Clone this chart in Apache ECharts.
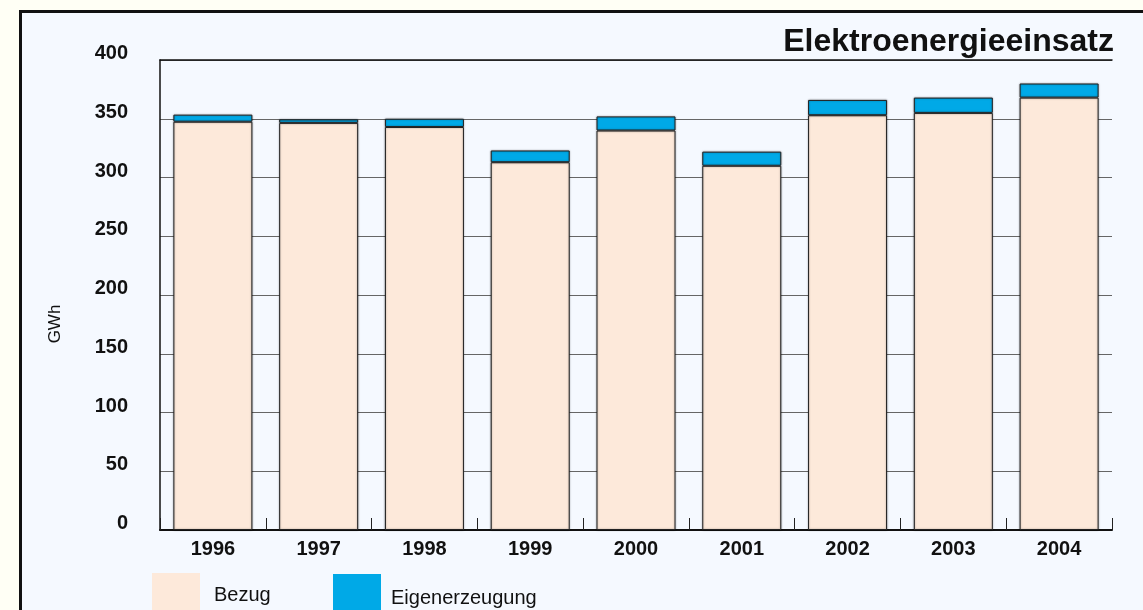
<!DOCTYPE html>
<html>
<head>
<meta charset="utf-8">
<script src="https://cdn.jsdelivr.net/npm/echarts@6/dist/echarts.min.js"></script>
<style>
  html, body { margin: 0; padding: 0; background: #fffff5; }
  #chart { width: 1143px; height: 610px; }
</style>
</head>
<body>
<div id="chart"></div>
<script>
const FONT = '"Liberation Sans", Arial, Helvetica, sans-serif'

const years = ['1996', '1997', '1998', '1999', '2000', '2001', '2002', '2003', '2004']
const bezug = [347.5, 346.5, 343, 313, 340, 310, 353, 355, 368]
const eigenerzeugung = [6, 3, 7, 10, 12, 12, 13, 13, 12]

const chart = echarts.init(document.getElementById('chart'))

const barStyle = (color) => ({
  color: color,
  borderColor: '#222',
  borderWidth: 1,
  shadowColor: 'rgba(0,0,0,0.35)',
  shadowBlur: 2,
})

// legend text sits a little lower than the middle of the swatch
const legendText = (pad) => ({
  fontFamily: FONT,
  rich: { a: { fontSize: 20, color: '#111', fontFamily: FONT, padding: pad } },
})

chart.setOption({
  backgroundColor: '#fffff5',
  animation: false,
  textStyle: { fontFamily: FONT },
  graphic: [
    {
      type: 'rect',
      z: -10,
      shape: { x: 20.5, y: 11.5, width: 1200, height: 700 },
      style: { fill: '#f5f9ff', stroke: '#111', lineWidth: 3 },
      silent: true,
    },
  ],
  title: {
    text: 'Elektroenergieeinsatz',
    right: 24,
    top: 21,
    textStyle: { fontSize: 32, fontWeight: 'bold', color: '#111', fontFamily: FONT },
  },
  grid: { left: 160, right: 31, top: 60, bottom: 80 },
  legend: [
    {
      left: 147,
      top: 568,
      itemWidth: 48,
      itemHeight: 37,
      icon: 'rect',
      data: ['Bezug'],
      formatter: '{a|{name}}',
      itemStyle: { borderWidth: 0, shadowBlur: 0 },
      textStyle: legendText([7, 0, 0, 9]),
    },
    {
      left: 328,
      top: 569,
      itemWidth: 48,
      itemHeight: 37,
      icon: 'rect',
      data: ['Eigenerzeugung'],
      formatter: '{a|{name}}',
      itemStyle: { borderWidth: 0, shadowBlur: 0 },
      textStyle: legendText([12, 0, 0, 5]),
    },
  ],
  xAxis: [
    {
      type: 'category',
      data: years,
      axisLine: { lineStyle: { color: '#111', width: 2 } },
      axisTick: { show: true, inside: true, length: 12, lineStyle: { color: '#222', width: 1 } },
      axisLabel: { fontSize: 20, fontWeight: 'bold', color: '#111', margin: 9, fontFamily: FONT },
    },
    {
      type: 'category',
      position: 'top',
      data: years,
      axisLine: { show: true, lineStyle: { color: '#111', width: 1.5 } },
      axisTick: { show: false },
      axisLabel: { show: false },
    },
  ],
  yAxis: {
    type: 'value',
    min: 0,
    max: 400,
    interval: 50,
    name: 'GWh',
    nameLocation: 'middle',
    nameRotate: 90,
    nameGap: 96,
    nameTextStyle: { fontSize: 17, color: '#111', fontFamily: FONT, padding: [0, 58, 0, 0] },
    axisLine: { show: true, lineStyle: { color: '#111', width: 1.5 } },
    axisTick: { show: false },
    axisLabel: {
      fontSize: 20, fontWeight: 'bold', color: '#111', margin: 32,
      verticalAlign: 'bottom', lineHeight: 13, fontFamily: FONT,
    },
    splitLine: { lineStyle: { color: '#666', width: 1 } },
  },
  series: [
    {
      name: 'Bezug',
      type: 'bar',
      stack: 'total',
      barWidth: 79,
      data: bezug,
      itemStyle: barStyle('#fde9da'),
    },
    {
      name: 'Eigenerzeugung',
      type: 'bar',
      stack: 'total',
      barWidth: 79,
      data: eigenerzeugung,
      itemStyle: barStyle('#00a9e7'),
    },
  ],
})
</script>
</body>
</html>
